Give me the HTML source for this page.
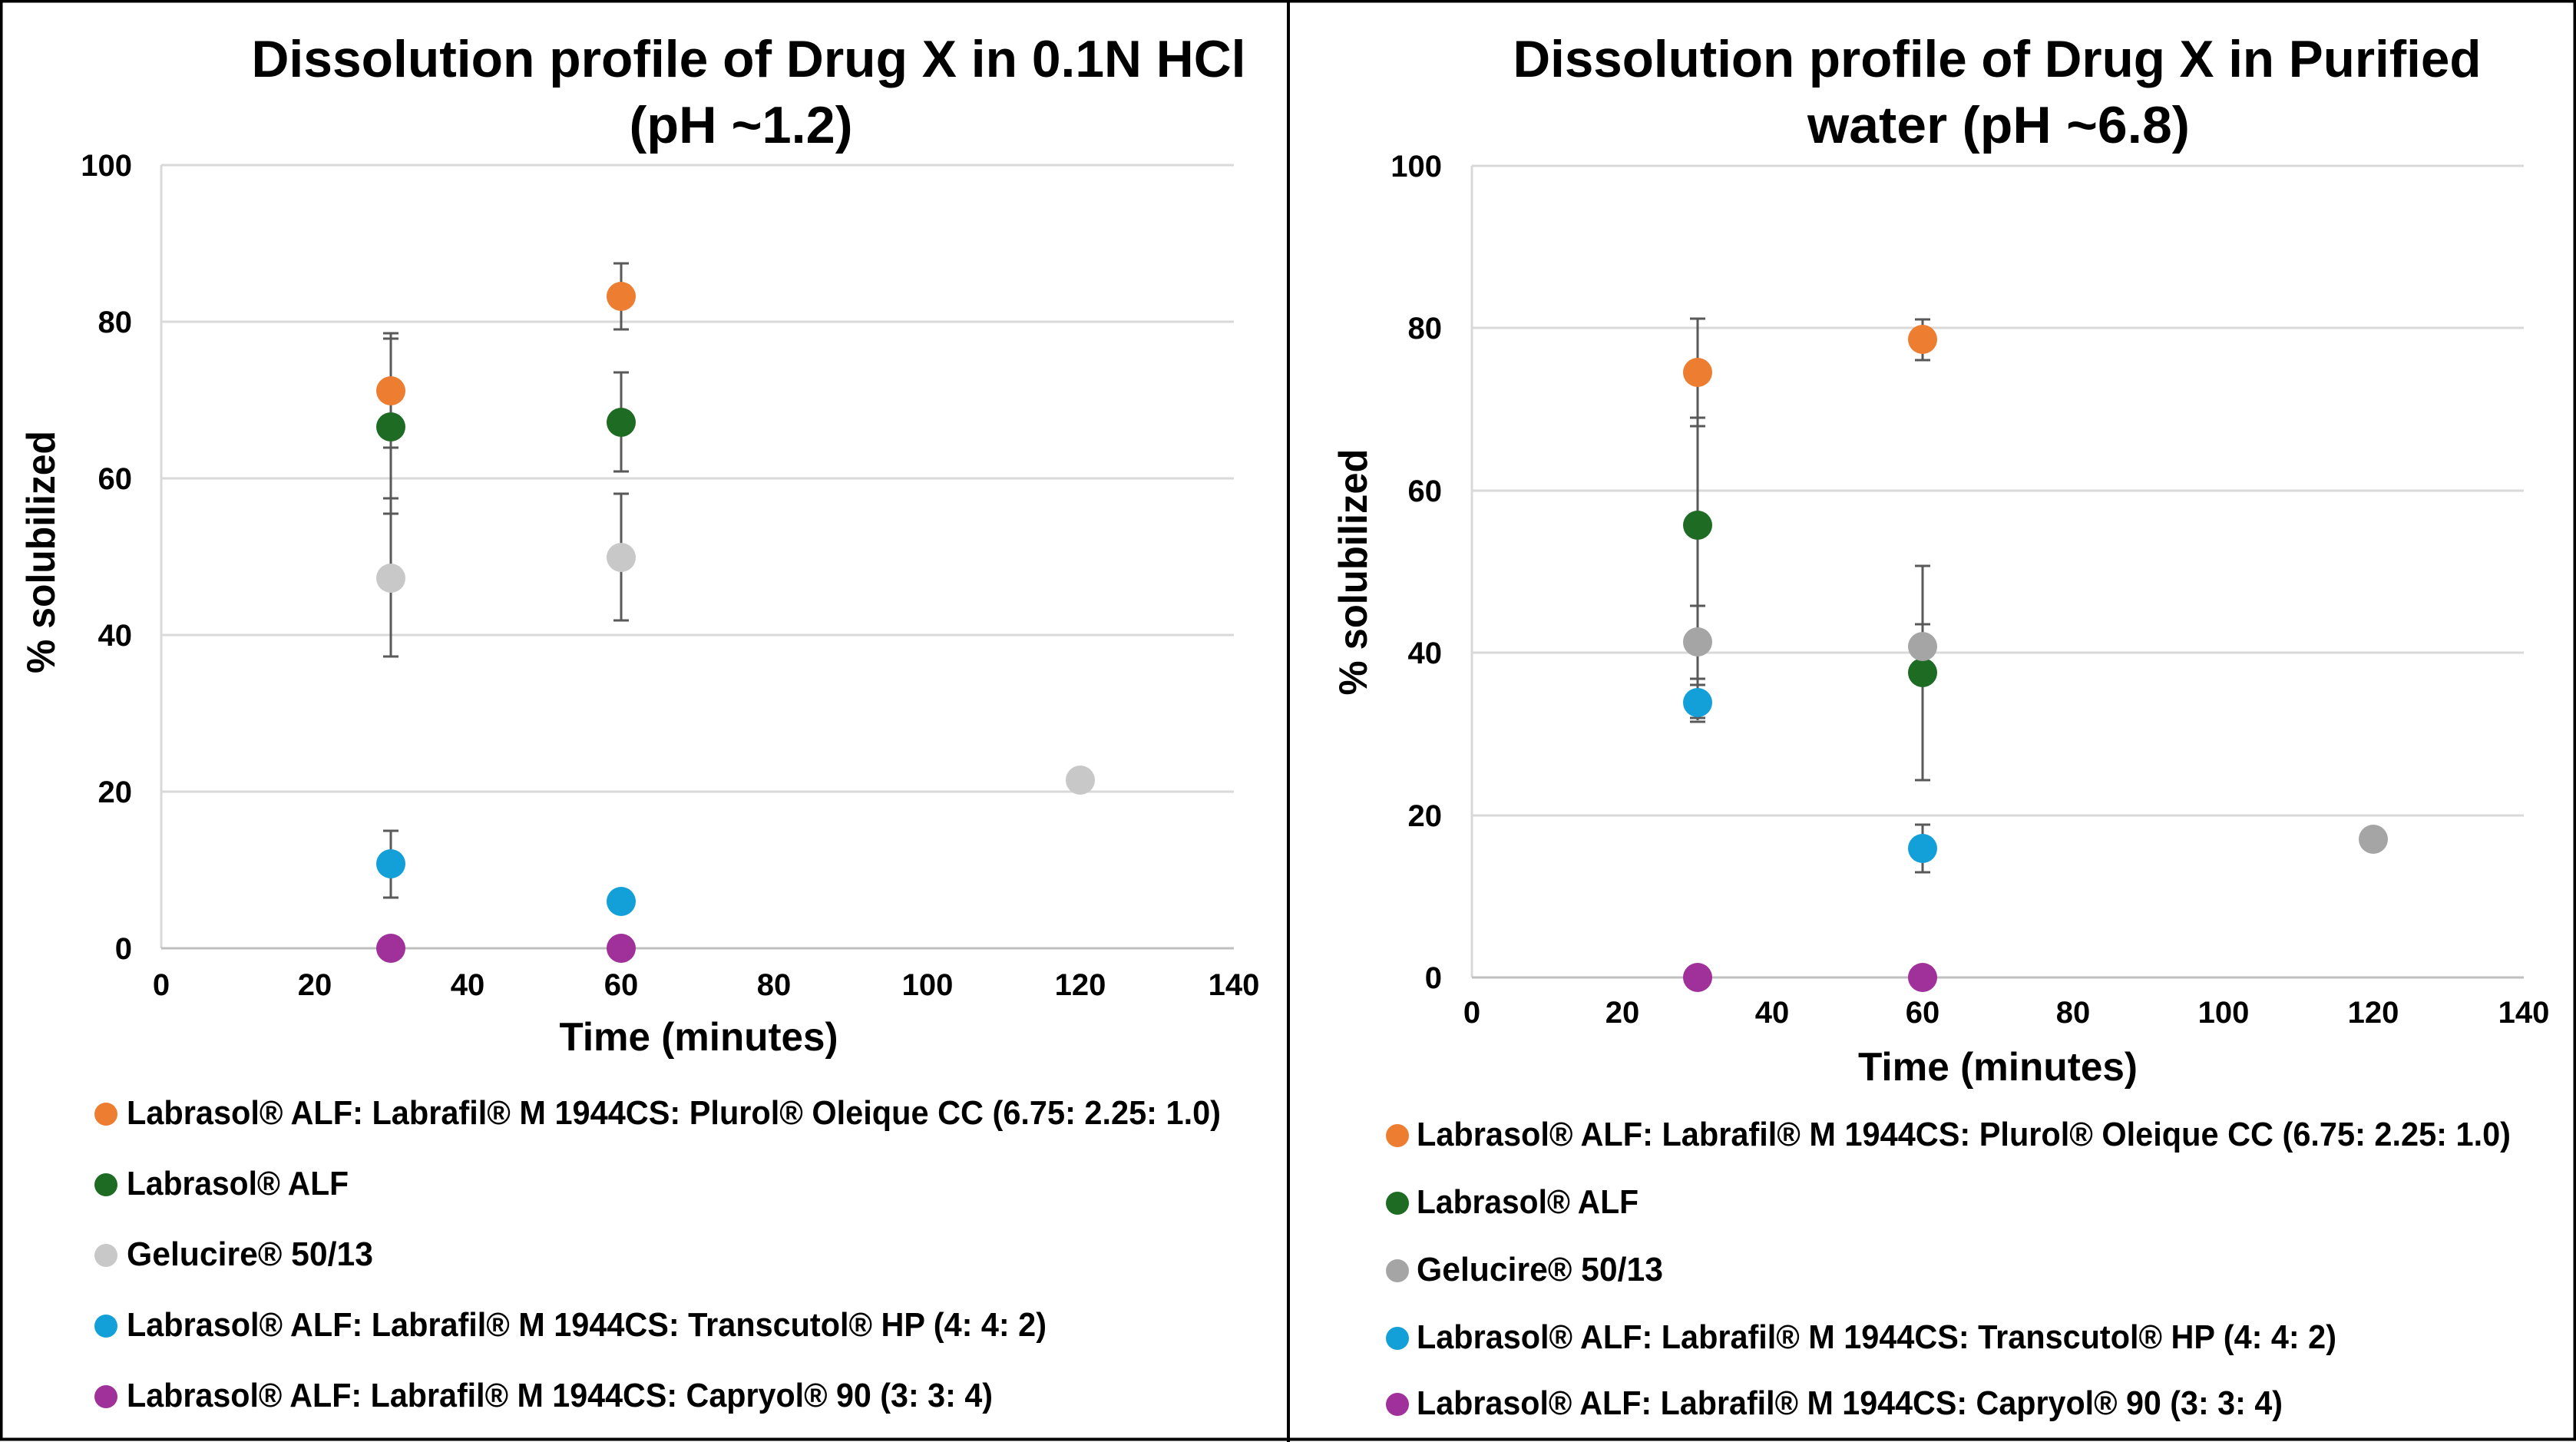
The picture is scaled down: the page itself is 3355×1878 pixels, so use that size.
<!DOCTYPE html>
<html><head><meta charset="utf-8"><style>
html,body{margin:0;padding:0;background:#fff;}
svg{display:block;}
text{font-family:"Liberation Sans Narrow","Liberation Sans",sans-serif;font-weight:bold;fill:#000;}
</style></head><body>
<svg width="3355" height="1878" viewBox="0 0 3355 1878" xmlns="http://www.w3.org/2000/svg">
<rect x="0" y="0" width="3355" height="1878" fill="#fff"/>
<rect x="1.5" y="1.5" width="3352" height="1873" fill="none" stroke="#000" stroke-width="4"/>
<line x1="1678" y1="0" x2="1678" y2="1878" stroke="#000" stroke-width="4"/>

<!-- LEFT CHART -->
<g>
<text x="975" y="100" font-size="68" text-anchor="middle" textLength="1295" lengthAdjust="spacingAndGlyphs">Dissolution profile of Drug X in 0.1N HCl</text>
<text x="965" y="186" font-size="68" text-anchor="middle" textLength="291" lengthAdjust="spacingAndGlyphs">(pH ~1.2)</text>
<g stroke="#d9d9d9" stroke-width="3">
<line x1="210" y1="215" x2="1607" y2="215"/>
<line x1="210" y1="419" x2="1607" y2="419"/>
<line x1="210" y1="623" x2="1607" y2="623"/>
<line x1="210" y1="827" x2="1607" y2="827"/>
<line x1="210" y1="1031" x2="1607" y2="1031"/>
<line x1="210" y1="215" x2="210" y2="1235"/>
</g>
<line x1="210" y1="1235" x2="1607" y2="1235" stroke="#bfbfbf" stroke-width="3"/>
<g font-size="40" text-anchor="end">
<text x="172" y="229">100</text><text x="172" y="433">80</text><text x="172" y="637">60</text>
<text x="172" y="841">40</text><text x="172" y="1045">20</text><text x="172" y="1249">0</text>
</g>
<g font-size="40" text-anchor="middle">
<text x="210" y="1296">0</text><text x="410" y="1296">20</text><text x="609" y="1296">40</text>
<text x="809" y="1296">60</text><text x="1008" y="1296">80</text><text x="1208" y="1296">100</text>
<text x="1407" y="1296">120</text><text x="1607" y="1296">140</text>
</g>
<text x="910" y="1368" font-size="52" text-anchor="middle" textLength="363" lengthAdjust="spacingAndGlyphs">Time (minutes)</text>
<text transform="translate(71,719) rotate(-90)" font-size="52" text-anchor="middle" textLength="316" lengthAdjust="spacingAndGlyphs">% solubilized</text>
<g stroke="#595959" stroke-width="3">
<line x1="509" y1="434" x2="509" y2="855"/>
<line x1="499" y1="434" x2="519" y2="434"/>
<line x1="499" y1="441" x2="519" y2="441"/>
<line x1="499" y1="583" x2="519" y2="583"/>
<line x1="499" y1="649" x2="519" y2="649"/>
<line x1="499" y1="669" x2="519" y2="669"/>
<line x1="499" y1="855" x2="519" y2="855"/>
<line x1="509" y1="1082" x2="509" y2="1169"/>
<line x1="499" y1="1082" x2="519" y2="1082"/>
<line x1="499" y1="1169" x2="519" y2="1169"/>
<line x1="809" y1="343" x2="809" y2="429"/>
<line x1="799" y1="343" x2="819" y2="343"/>
<line x1="799" y1="429" x2="819" y2="429"/>
<line x1="809" y1="485" x2="809" y2="614"/>
<line x1="799" y1="485" x2="819" y2="485"/>
<line x1="799" y1="614" x2="819" y2="614"/>
<line x1="809" y1="643" x2="809" y2="808"/>
<line x1="799" y1="643" x2="819" y2="643"/>
<line x1="799" y1="808" x2="819" y2="808"/>
</g>
<circle cx="509" cy="509" r="19" fill="#ed7d31"/>
<circle cx="809" cy="386" r="19" fill="#ed7d31"/>
<circle cx="509" cy="556" r="19" fill="#1e6b24"/>
<circle cx="809" cy="550" r="19" fill="#1e6b24"/>
<circle cx="509" cy="753" r="19" fill="#c8c8c8"/>
<circle cx="809" cy="726" r="19" fill="#c8c8c8"/>
<circle cx="1407" cy="1016" r="19" fill="#c8c8c8"/>
<circle cx="509" cy="1125" r="19" fill="#13a0d8"/>
<circle cx="809" cy="1174" r="19" fill="#13a0d8"/>
<circle cx="509" cy="1235" r="19" fill="#a0309a"/>
<circle cx="809" cy="1235" r="19" fill="#a0309a"/>
<circle cx="138" cy="1451" r="15" fill="#ed7d31"/>
<circle cx="138" cy="1543" r="15" fill="#1e6b24"/>
<circle cx="138" cy="1635" r="15" fill="#c8c8c8"/>
<circle cx="138" cy="1727" r="15" fill="#13a0d8"/>
<circle cx="138" cy="1819" r="15" fill="#a0309a"/>
<g font-size="44">
<text x="165" y="1464" textLength="1425" lengthAdjust="spacingAndGlyphs">Labrasol® ALF: Labrafil® M 1944CS: Plurol® Oleique CC (6.75: 2.25: 1.0)</text>
<text x="165" y="1556" textLength="289" lengthAdjust="spacingAndGlyphs">Labrasol® ALF</text>
<text x="165" y="1648" textLength="321" lengthAdjust="spacingAndGlyphs">Gelucire® 50/13</text>
<text x="165" y="1740" textLength="1198" lengthAdjust="spacingAndGlyphs">Labrasol® ALF: Labrafil® M 1944CS: Transcutol® HP (4: 4: 2)</text>
<text x="165" y="1832" textLength="1128" lengthAdjust="spacingAndGlyphs">Labrasol® ALF: Labrafil® M 1944CS: Capryol® 90 (3: 3: 4)</text>
</g>
</g>

<!-- RIGHT CHART -->
<g>
<text x="2601" y="100" font-size="68" text-anchor="middle" textLength="1261" lengthAdjust="spacingAndGlyphs">Dissolution profile of Drug X in Purified</text>
<text x="2603" y="186" font-size="68" text-anchor="middle" textLength="498" lengthAdjust="spacingAndGlyphs">water (pH ~6.8)</text>
<g stroke="#d9d9d9" stroke-width="3">
<line x1="1917" y1="216" x2="3287" y2="216"/>
<line x1="1917" y1="427" x2="3287" y2="427"/>
<line x1="1917" y1="639" x2="3287" y2="639"/>
<line x1="1917" y1="850" x2="3287" y2="850"/>
<line x1="1917" y1="1062" x2="3287" y2="1062"/>
<line x1="1917" y1="216" x2="1917" y2="1273"/>
</g>
<line x1="1917" y1="1273" x2="3287" y2="1273" stroke="#bfbfbf" stroke-width="3"/>
<g font-size="40" text-anchor="end">
<text x="1878" y="230">100</text><text x="1878" y="441">80</text><text x="1878" y="653">60</text>
<text x="1878" y="864">40</text><text x="1878" y="1076">20</text><text x="1878" y="1287">0</text>
</g>
<g font-size="40" text-anchor="middle">
<text x="1917" y="1332">0</text><text x="2113" y="1332">20</text><text x="2308" y="1332">40</text>
<text x="2504" y="1332">60</text><text x="2700" y="1332">80</text><text x="2896" y="1332">100</text>
<text x="3091" y="1332">120</text><text x="3287" y="1332">140</text>
</g>
<text x="2602" y="1407" font-size="52" text-anchor="middle" textLength="364" lengthAdjust="spacingAndGlyphs">Time (minutes)</text>
<text transform="translate(1780,745) rotate(-90)" font-size="52" text-anchor="middle" textLength="321" lengthAdjust="spacingAndGlyphs">% solubilized</text>
<g stroke="#595959" stroke-width="3">
<line x1="2211" y1="415" x2="2211" y2="938"/>
<line x1="2201" y1="415" x2="2221" y2="415"/>
<line x1="2201" y1="544" x2="2221" y2="544"/>
<line x1="2201" y1="555" x2="2221" y2="555"/>
<line x1="2201" y1="789" x2="2221" y2="789"/>
<line x1="2201" y1="884" x2="2221" y2="884"/>
<line x1="2201" y1="892" x2="2221" y2="892"/>
<line x1="2201" y1="935" x2="2221" y2="935"/>
<line x1="2201" y1="940" x2="2221" y2="940"/>
<line x1="2504" y1="416" x2="2504" y2="469"/>
<line x1="2494" y1="416" x2="2514" y2="416"/>
<line x1="2494" y1="469" x2="2514" y2="469"/>
<line x1="2504" y1="737" x2="2504" y2="1016"/>
<line x1="2494" y1="737" x2="2514" y2="737"/>
<line x1="2494" y1="813" x2="2514" y2="813"/>
<line x1="2494" y1="1016" x2="2514" y2="1016"/>
<line x1="2504" y1="1074" x2="2504" y2="1136"/>
<line x1="2494" y1="1074" x2="2514" y2="1074"/>
<line x1="2494" y1="1136" x2="2514" y2="1136"/>
</g>
<circle cx="2211" cy="485" r="19" fill="#ed7d31"/>
<circle cx="2504" cy="442" r="19" fill="#ed7d31"/>
<circle cx="2211" cy="684" r="19" fill="#1e6b24"/>
<circle cx="2504" cy="876" r="19" fill="#1e6b24"/>
<circle cx="2211" cy="836" r="19" fill="#a5a5a5"/>
<circle cx="2504" cy="842" r="19" fill="#a5a5a5"/>
<circle cx="3091" cy="1093" r="19" fill="#a5a5a5"/>
<circle cx="2211" cy="915" r="19" fill="#13a0d8"/>
<circle cx="2504" cy="1105" r="19" fill="#13a0d8"/>
<circle cx="2211" cy="1273" r="19" fill="#a0309a"/>
<circle cx="2504" cy="1273" r="19" fill="#a0309a"/>
<circle cx="1820" cy="1479" r="15" fill="#ed7d31"/>
<circle cx="1820" cy="1567" r="15" fill="#1e6b24"/>
<circle cx="1820" cy="1655" r="15" fill="#a5a5a5"/>
<circle cx="1820" cy="1743" r="15" fill="#13a0d8"/>
<circle cx="1820" cy="1829" r="15" fill="#a0309a"/>
<g font-size="44">
<text x="1845" y="1492" textLength="1425" lengthAdjust="spacingAndGlyphs">Labrasol® ALF: Labrafil® M 1944CS: Plurol® Oleique CC (6.75: 2.25: 1.0)</text>
<text x="1845" y="1580" textLength="289" lengthAdjust="spacingAndGlyphs">Labrasol® ALF</text>
<text x="1845" y="1668" textLength="321" lengthAdjust="spacingAndGlyphs">Gelucire® 50/13</text>
<text x="1845" y="1756" textLength="1198" lengthAdjust="spacingAndGlyphs">Labrasol® ALF: Labrafil® M 1944CS: Transcutol® HP (4: 4: 2)</text>
<text x="1845" y="1842" textLength="1128" lengthAdjust="spacingAndGlyphs">Labrasol® ALF: Labrafil® M 1944CS: Capryol® 90 (3: 3: 4)</text>
</g>
</g>
</svg>
</body></html>
